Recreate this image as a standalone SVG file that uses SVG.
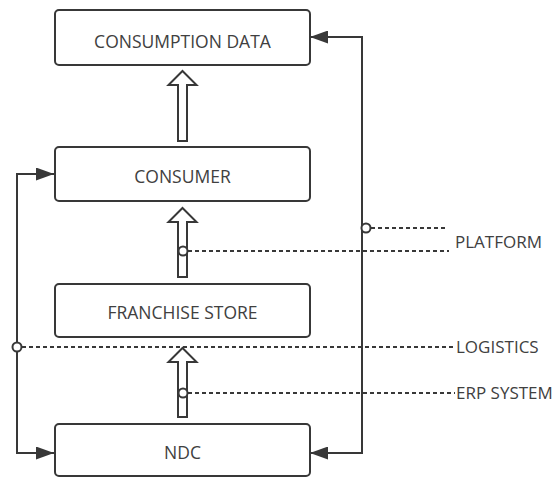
<svg xmlns="http://www.w3.org/2000/svg" width="553" height="477" viewBox="0 0 553 477">
  <style>
    .box { fill: #ffffff; stroke: #383838; stroke-width: 2; }
    .lbl { font-family: "Open Sans", "DejaVu Sans", sans-serif; font-size: 17.5px; fill: #404040; }
    .side { font-family: "Open Sans", "DejaVu Sans", sans-serif; font-size: 17px; fill: #404040; }
    .conn { fill: none; stroke: #383838; stroke-width: 2; }
    .dot { fill: none; stroke: #383838; stroke-width: 2; stroke-dasharray: 4 3; }
    .ring { fill: #ffffff; stroke: #383838; stroke-width: 2; }
    .hollow { fill: #ffffff; stroke: #383838; stroke-width: 2; stroke-linejoin: miter; }
  </style>
  <defs>
    <marker id="ah" markerUnits="userSpaceOnUse" viewBox="0 0 18 13" refX="18" refY="6.5" markerWidth="18" markerHeight="13" orient="auto-start-reverse">
      <path d="M0,0 L18,6.5 L0,13 z" fill="#383838"/>
    </marker>
  </defs>
  <rect width="553" height="477" fill="#ffffff"/>

  <g id="connectors">
    <path class="conn" d="M310,37 H362 V453 H310" marker-start="url(#ah)" marker-end="url(#ah)"/>
    <path class="conn" d="M54,174 H17 V453 H54" marker-start="url(#ah)" marker-end="url(#ah)"/>
    <polygon class="hollow" points="182.5,71 196.5,85 187,85 187,141 178,141 178,85 168.5,85"/>
    <polygon class="hollow" points="182.5,208 196.5,222 187,222 187,277 178,277 178,222 168.5,222"/>
    <polygon class="hollow" points="182.5,348 196.5,362 187,362 187,417 178,417 178,362 168.5,362"/>
  </g>

  <g id="node-consumption-data">
    <rect class="box" x="55" y="10" width="255" height="55" rx="4"/>
    <text class="lbl" x="182.5" y="48" text-anchor="middle">CONSUMPTION DATA</text>
  </g>
  <g id="node-consumer">
    <rect class="box" x="55" y="147" width="255" height="54" rx="4"/>
    <text class="lbl" x="182.5" y="183" text-anchor="middle">CONSUMER</text>
  </g>
  <g id="node-franchise-store">
    <rect class="box" x="55" y="284" width="255" height="53" rx="4"/>
    <text class="lbl" x="182.5" y="319" text-anchor="middle">FRANCHISE STORE</text>
  </g>
  <g id="node-ndc">
    <rect class="box" x="55" y="424" width="255" height="52" rx="4"/>
    <text class="lbl" x="182.5" y="459" text-anchor="middle">NDC</text>
  </g>

  <g id="platform">
    <line class="dot" x1="371" y1="228" x2="447" y2="228"/>
    <circle class="ring" cx="366" cy="228" r="4.5"/>
    <line class="dot" x1="188" y1="251" x2="449" y2="251"/>
    <circle class="ring" cx="183" cy="251" r="4.5"/>
    <text class="side" x="455" y="248">PLATFORM</text>
  </g>
  <g id="logistics">
    <line class="dot" x1="22" y1="347" x2="455" y2="347"/>
    <circle class="ring" cx="17" cy="347" r="4.5"/>
    <text class="side" x="456" y="353">LOGISTICS</text>
  </g>
  <g id="erp-system">
    <line class="dot" x1="188" y1="393" x2="455" y2="393"/>
    <circle class="ring" cx="183" cy="393" r="4.5"/>
    <text class="side" x="456" y="399">ERP SYSTEM</text>
  </g>
</svg>
